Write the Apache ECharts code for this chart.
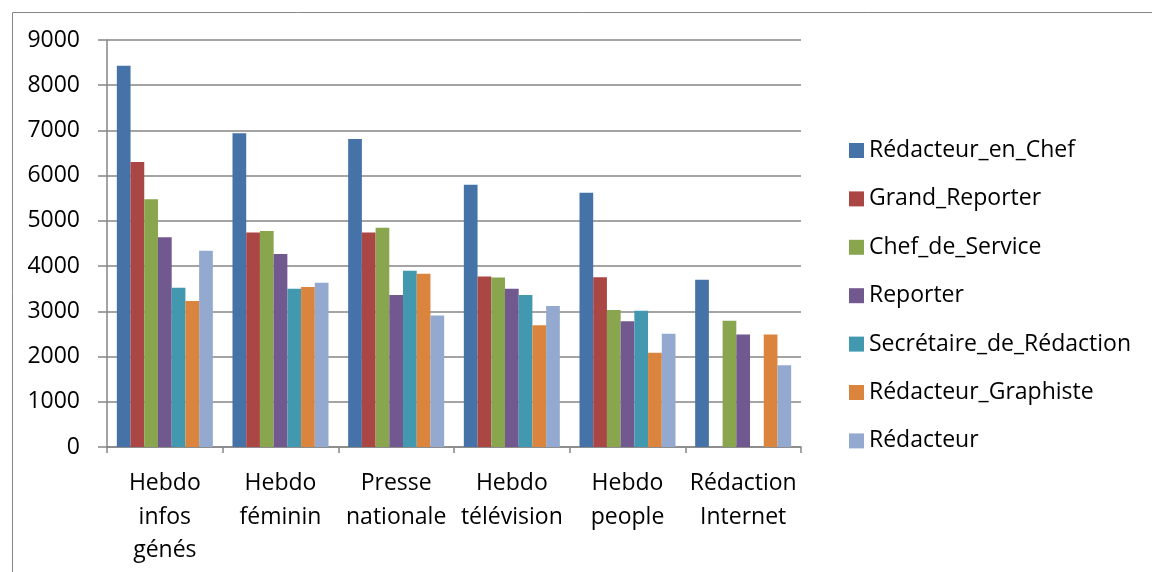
<!DOCTYPE html>
<html>
<head>
<meta charset="utf-8">
<script src="https://cdn.jsdelivr.net/npm/echarts@6/dist/echarts.min.js"></script>
<style>html,body{margin:0;padding:0;background:#fff}#c{width:1152px;height:572px}</style>
</head>
<body>
<div id="c"></div>
<script>
const categories = ["Hebdo\ninfos\ngénés", "Hebdo\nféminin", "Presse\nnationale", "Hebdo\ntélévision", "Hebdo\npeople", "Rédaction\nInternet"];
const seriesNames = ["Rédacteur_en_Chef", "Grand_Reporter", "Chef_de_Service", "Reporter", "Secrétaire_de_Rédaction", "Rédacteur_Graphiste", "Rédacteur"];
const redacteurEnChef = [8430, 6940, 6810, 5800, 5620, 3700];
const grandReporter = [6300, 4745, 4745, 3770, 3755, null];
const chefDeService = [5480, 4775, 4850, 3750, 3030, 2790];
const reporter = [4640, 4270, 3360, 3500, 2780, 2485];
const secretaireDeRedaction = [3520, 3500, 3900, 3360, 3015, null];
const redacteurGraphiste = [3230, 3540, 3830, 2690, 2085, 2485];
const redacteur = [4340, 3630, 2910, 3120, 2505, 1810];
const yTicks = [0, 1000, 2000, 3000, 4000, 5000, 6000, 7000, 8000, 9000];

const values = [redacteurEnChef, grandReporter, chefDeService, reporter, secretaireDeRedaction, redacteurGraphiste, redacteur];
const colors = ['#4572A7', '#AA4643', '#89A54E', '#71588F', '#4198AF', '#DB843D', '#93A9CF'];
const font = '"Open Sans", "Liberation Sans", sans-serif';

const chart = echarts.init(document.getElementById('c'), null, {renderer: 'canvas'});
chart.setOption({
  animation: false,
  backgroundColor: '#fff',
  color: colors,
  textStyle: {fontFamily: font},
  graphic: [{
    type: 'rect', left: 10, top: 10, silent: true,
    shape: {width: 1200, height: 600},
    style: {fill: 'none', stroke: '#868686', lineWidth: 1}
  }],
  grid: {left: 107, right: 351, top: 40, bottom: 125, containLabel: false},
  legend: {
    orient: 'vertical', left: 844, top: 134,
    itemWidth: 15, itemHeight: 15, itemGap: 25.4,
    icon: 'rect',
    textStyle: {fontSize: 23, color: '#000', fontFamily: font, lineHeight: 20},
    data: seriesNames
  },
  xAxis: {
    type: 'category', data: categories,
    axisLine: {lineStyle: {color: '#868686', width: 1.5}},
    axisTick: {show: true, length: 6, lineStyle: {color: '#868686', width: 1.5}},
    axisLabel: {fontSize: 23, color: '#000', lineHeight: 33.5, margin: 20, interval: 0, fontFamily: font}
  },
  yAxis: {
    type: 'value', min: yTicks[0], max: yTicks[yTicks.length - 1], interval: 1000,
    axisLine: {show: true, lineStyle: {color: '#868686', width: 1.5}},
    axisTick: {show: true, length: 9, lineStyle: {color: '#868686', width: 1.5}},
    axisLabel: {fontSize: 23, color: '#000', margin: 27, fontFamily: font, formatter: v => String(v)},
    splitLine: {lineStyle: {color: '#868686', width: 1.5}}
  },
  series: seriesNames.map((n, i) => ({
    name: n, type: 'bar', data: values[i],
    barGap: '0%', barCategoryGap: '17%',
    itemStyle: {color: colors[i]}
  }))
});
</script>
</body>
</html>
